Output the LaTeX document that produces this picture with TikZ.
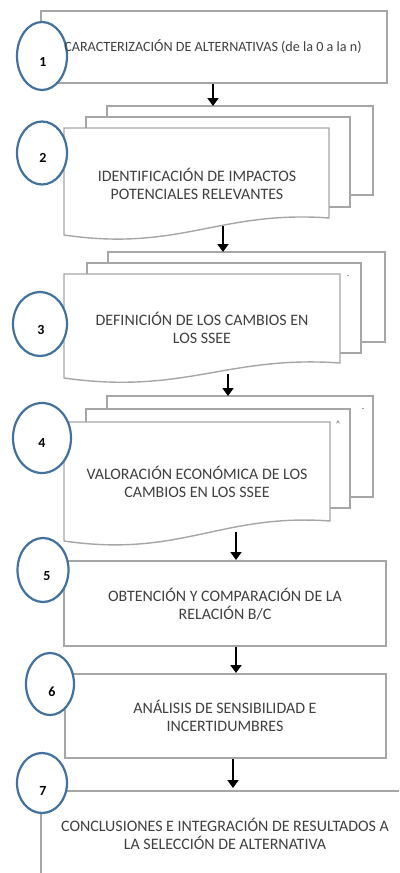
\documentclass[tikz,border=0pt]{standalone}
\usepackage{fontspec}
\setmainfont{Carlito}
\usetikzlibrary{arrows.meta}
\definecolor{boxgray}{HTML}{A6A6A6}
\definecolor{circblue}{HTML}{41719C}
\definecolor{txtgray}{HTML}{404040}
\tikzset{
  sheet/.style={draw=boxgray, line width=1.4bp, fill=white},
  numcirc/.style={draw=circblue, line width=2.2bp, fill=white},
  numtxt/.style={font=\fontsize{14}{16}\selectfont\bfseries, text=black, inner sep=0},
  steptxt/.style={font=\fontsize{16}{18.5}\selectfont, text=txtgray, align=center, inner sep=0},
  flowarrow/.style={-{Triangle[length=8bp,width=11bp]}, line width=2bp, black},
  tinymark/.style={font=\fontsize{8}{9}\selectfont, text=txtgray, inner sep=0}
}
\begin{document}
\begin{tikzpicture}[x=1bp,y=-1bp]
\useasboundingbox (0,0) rectangle (399,873);

% ---- Step 1
\draw[sheet] (41,11) rectangle (387,83);
\draw[numcirc] (42,56) ellipse [x radius=25, y radius=34];
\node[numtxt] (n1) at (43,62) {1};
\node[steptxt, font=\fontsize{14.2}{17}\selectfont] (t1) at (213,47) {CARACTERIZACIÓN DE ALTERNATIVAS (de la 0 a la n)};

% ---- Step 2
\draw[sheet] (107,106) rectangle (373,195);
\draw[sheet] (86,117) rectangle (350,207);
\draw[sheet] (64,128) -- (329,128) -- (329,218) .. controls (220,210) and (180,252) .. (64,235) -- cycle;
\node[steptxt] (t2) at (197,184) {IDENTIFICACIÓN DE IMPACTOS\\POTENCIALES RELEVANTES};
\draw[numcirc] (42,153) ellipse [x radius=25, y radius=31.5];
\node[numtxt] (n2) at (43,158) {2};

% ---- Step 3
\draw[sheet] (108,252) rectangle (385,342);
\draw[sheet] (87,263) rectangle (361,353);
\draw[sheet] (64,274) -- (340,274) -- (340,363) .. controls (227,355) and (185,395) .. (64,378) -- cycle;
\node[tinymark] (m3) at (348,277) {-};
\node[steptxt] (t3) at (202,328) {DEFINICIÓN DE LOS CAMBIOS EN\\LOS SSEE};
\draw[numcirc] (40,324) ellipse [x radius=27, y radius=32];
\node[numtxt] (n3) at (41,330) {3};

% ---- Step 4
\draw[sheet] (107,396) rectangle (373,497);
\draw[sheet] (86,409) rectangle (350,508);
\draw[sheet] (64,422) -- (330,422) -- (330,521) .. controls (221,513) and (181,558) .. (64,541) -- cycle;
\node[tinymark] (m4a) at (363,410) {-};
\node[tinymark] (m4b) at (338,424) {\^{}};
\node[steptxt] (t4) at (197,482) {VALORACIÓN ECONÓMICA DE LOS\\CAMBIOS EN LOS SSEE};
\draw[numcirc] (42,438) ellipse [x radius=29, y radius=35];
\node[numtxt] (n4) at (42,443) {4};

% ---- Step 5
\draw[sheet] (64,561) rectangle (386,646);
\node[steptxt] (t5) at (225,604) {OBTENCIÓN Y COMPARACIÓN DE LA\\RELACIÓN B/C};
\draw[numcirc] (43,570) ellipse [x radius=25.5, y radius=32];
\node[numtxt] (n5) at (47,576) {5};

% ---- Step 6
\draw[sheet] (65,674) rectangle (386,758);
\node[steptxt] (t6) at (225,716) {ANÁLISIS DE SENSIBILIDAD E\\INCERTIDUMBRES};
\draw[numcirc] (50,684) ellipse [x radius=24, y radius=31];
\node[numtxt] (n6) at (52,692) {6};

% ---- Step 7
\draw[sheet, fill=none] (41,873) -- (41,791) -- (399,791);
\node[steptxt] (t7) at (225,834) {CONCLUSIONES E INTEGRACIÓN DE RESULTADOS A\\LA SELECCIÓN DE ALTERNATIVA};
\draw[numcirc] (42,783) ellipse [x radius=25, y radius=30];
\node[numtxt] (n7) at (43,791) {7};

% ---- connectors
\coordinate (a1s) at (213,84);  \coordinate (a1e) at (213,106);
\coordinate (a2s) at (223,226); \coordinate (a2e) at (223,252);
\coordinate (a3s) at (228,374); \coordinate (a3e) at (228,396);
\coordinate (a4s) at (236,532); \coordinate (a4e) at (236,560);
\coordinate (a5s) at (236,647); \coordinate (a5e) at (236,673);
\coordinate (a6s) at (233,759); \coordinate (a6e) at (233,788);
\draw[flowarrow] (a1s) -- (a1e);
\draw[flowarrow] (a2s) -- (a2e);
\draw[flowarrow] (a3s) -- (a3e);
\draw[flowarrow] (a4s) -- (a4e);
\draw[flowarrow] (a5s) -- (a5e);
\draw[flowarrow] (a6s) -- (a6e);
\end{tikzpicture}
\end{document}
